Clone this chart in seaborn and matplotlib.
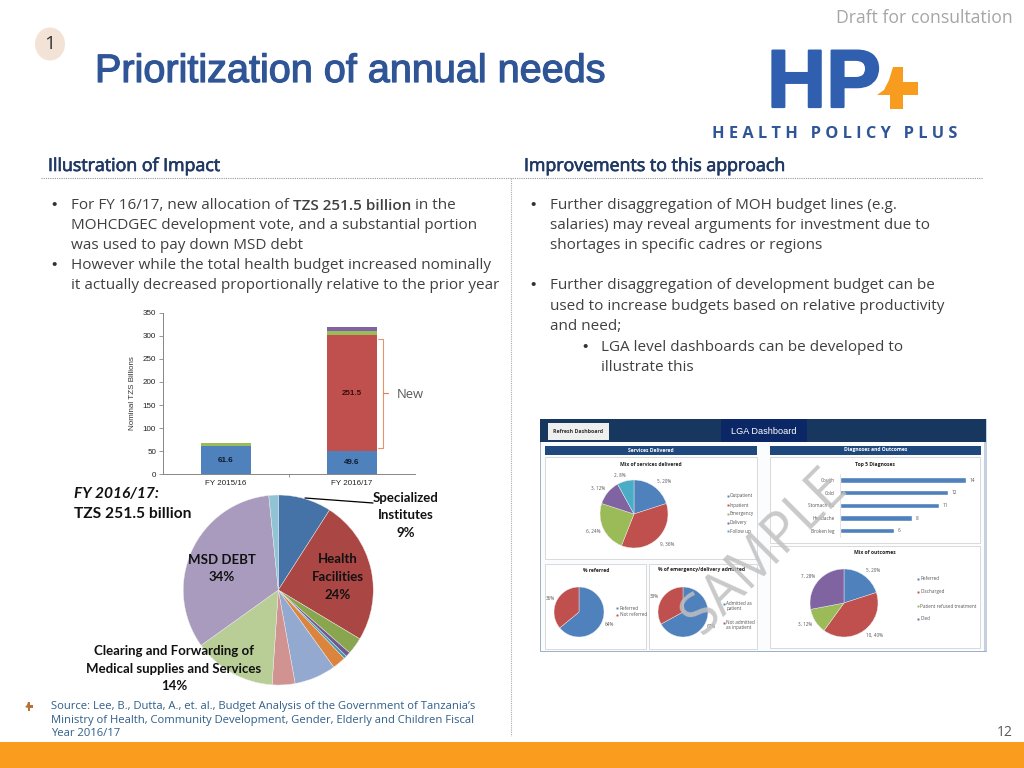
import pandas as pd
import matplotlib
matplotlib.use("Agg")
import matplotlib.pyplot as plt
import seaborn as sns
from matplotlib.patches import Rectangle, Ellipse, Polygon
import matplotlib.patheffects as pe

W, H = 1024, 768

# stacked bars
anos = ["FY 2015/16", "FY 2016/17"]
componentes = ["Base", "New", "Other", "Recurrent"]
base_vals = [61.6, 49.6]
new_vals = [0, 251.5]
other_vals = [6, 10]
recurrent_vals = [0, 8.5]
bar_cores = ["#4f81bd", "#c0504d", "#9bbb59", "#8064a2"]

# big pie, clockwise from the top
pie_vals = [9.1, 24.6, 2.9, 0.8, 0.5, 2.3, 7.1, 3.9, 14.1, 33.4, 1.6]
pie_cores = ["#4572a7", "#aa4643", "#89a54e", "#71588f", "#4198af", "#db843d",
             "#93a9cf", "#d19392", "#b9cd96", "#a99bbd", "#91c3d5"]

# dashboard data
mix_servicos = [5, 9, 6, 3, 2]
referidos = [64, 36]
admitidos = [67, 33]
mix_resultados = [5, 10, 3, 7]
dash_cores = ["#4f81bd", "#c0504d", "#9bbb59", "#8064a2", "#4bacc6"]
diagnosticos = ["Cough", "Cold", "Stomach flu", "Headache", "Broken leg"]
diag_vals = [14, 12, 11, 8, 6]

texto_esq = [
    "MOHCDGEC development vote, and a substantial portion",
    "was used to pay down MSD debt",
    "However while the total health budget increased nominally",
    "it actually decreased proportionally relative to the prior year",
]
texto_dir = [
    ("Further disaggregation of MOH budget lines (e.g.", 204, True),
    ("salaries) may reveal arguments for investment due to", 224, False),
    ("shortages in specific cadres or regions", 244, False),
    ("Further disaggregation of development budget can be", 284, True),
    ("used to increase budgets based on relative productivity", 305, False),
    ("and need;", 325, False),
]
fonte_linhas = [
    "Source: Lee, B., Dutta, A., et. al., Budget Analysis of the Government of Tanzania\u2019s",
    "Ministry of Health, Community Development, Gender, Elderly and Children Fiscal",
    "Year 2016/17",
]

sns.set_theme(style="white")
plt.rcParams["font.family"] = ["Open Sans", "DejaVu Sans"]

fig = plt.figure(figsize=(W / 100, H / 100), dpi=100, facecolor="white")


def eixo_px(x0, y0, x1, y1, z=2):
    ax = fig.add_axes([x0 / W, 1 - y1 / H, (x1 - x0) / W, (y1 - y0) / H], zorder=z)
    return ax


def pie_px(cx, cy, r, vals, cores):
    ax = eixo_px(cx - r, cy - r, cx + r, cy + r)
    ax.pie(vals, colors=cores, startangle=90, counterclock=False, radius=1,
           wedgeprops={"linewidth": 0.3, "edgecolor": "#eeeeee"})
    ax.set_xlim(-1, 1)
    ax.set_ylim(-1, 1)
    return ax


# background layer in pixel coordinates
bg = eixo_px(0, 0, W, H, z=0)
bg.set_xlim(0, W)
bg.set_ylim(H, 0)
bg.axis("off")

# top layer
top = eixo_px(0, 0, W, H, z=5)
top.set_xlim(0, W)
top.set_ylim(H, 0)
top.axis("off")
top.patch.set_alpha(0)


def txt(x, y, s, size, cor="#404040", ha="left", ax=top, **kw):
    return ax.text(x, y, s, fontsize=size, color=cor, ha=ha, va="center", **kw)


def bala(x, y):
    txt(x, y, "\u2022", 11, "#333333", family="Liberation Sans")


# header
txt(1013, 18, "Draft for consultation", 12.7, "#a6a6a6", ha="right")
bg.add_patch(Ellipse((50, 44), 30, 33, color="#f3e2d6", lw=0))
txt(50, 44, "1", 14, "#333333", ha="center")
txt(95, 71, "Prioritization of annual needs", 28.5, "#2f5597", family=["Liberation Sans Narrow", "Liberation Sans"],
    path_effects=[pe.withStroke(linewidth=0.9, foreground="#2f5597")])

# logo
txt(767, 86, "HP", 59, "#2f5fae", family="Liberation Sans", weight="bold",
    path_effects=[pe.withStroke(linewidth=1.6, foreground="#2f5fae")])
top.add_patch(Polygon([(877, 95), (884, 90), (889, 80), (893, 67), (903, 67), (903, 82), (918, 82),
                       (918, 95), (903, 95), (903, 109), (890, 109), (890, 95)], color="#f79c1f", lw=0))
txt(835, 133.5, "H E A L T H   P O L I C Y   P L U S", 11.8, "#2f5597", ha="center", weight="bold",
    family="Open Sans")

# section headings
txt(48, 166, "Illustration of Impact", 12.8, "#1f3864", family=["Open Sans"],
    path_effects=[pe.withStroke(linewidth=0.5, foreground="#1f3864")])
txt(524, 166, "Improvements to this approach", 12.8, "#1f3864", family=["Open Sans"],
    path_effects=[pe.withStroke(linewidth=0.5, foreground="#1f3864")])
bg.plot([41, 983], [177.5, 177.5], color="#999999", lw=0.8, ls=(0, (1, 1)))
bg.plot([511, 511], [178, 736], color="#aaaaaa", lw=0.8, ls=(0, (1, 1)))

# left bullets, first line has a bold run
CORPO = 11
DY = 1.5
bala(51, 204 + DY)
rend = fig.canvas.get_renderer()
x_run = 71
for parte, peso in [("For FY 16/17, new allocation of ", "normal"), ("TZS 251.5 billion", "semibold"), (" in the", "normal")]:
    t = txt(x_run, 204 + DY, parte.replace(" ", "\u00a0"), CORPO, weight=peso)
    bb = t.get_window_extent(rend)
    x_run = bb.x1
for s, y in zip(texto_esq, [224, 244, 264, 284]):
    txt(71, y + DY, s, CORPO)
bala(51, 264 + DY)

# right bullets
for s, y, marca in texto_dir:
    if marca:
        bala(530, y + DY)
    txt(550, y + DY, s, CORPO)
bala(582, 346 + DY)
txt(601, 346 + DY, "LGA level dashboards can be developed to", CORPO)
txt(601, 366 + DY, "illustrate this", CORPO)

# stacked bar chart
df = pd.DataFrame({
    "ano": anos * 4,
    "componente": [c for c in componentes for _ in anos],
    "valor": base_vals + new_vals + other_vals + recurrent_vals,
})
ax = eixo_px(163, 312.7, 415, 474.3)
sns.histplot(data=df, x="ano", hue="componente", weights="valor", multiple="stack", discrete=True,
             shrink=0.4, hue_order=componentes[::-1], palette=dict(zip(componentes, bar_cores)),
             linewidth=0, alpha=1, legend=False, ax=ax)
ax.set_xlim(-0.5, 1.5)
ax.set_ylim(0, 350)
ax.set_yticks(range(0, 351, 50))
ax.set_xlabel("")
ax.set_ylabel("Nominal TZS Billions", fontsize=5.8, color="#333333", family="Liberation Sans", labelpad=5)
ax.patch.set_alpha(0)
sns.despine(ax=ax)
for lado in ["left", "bottom"]:
    ax.spines[lado].set_color("#868686")
    ax.spines[lado].set_linewidth(0.7)
ax.tick_params(axis="y", length=3, width=0.6, color="#868686", labelsize=5.8, labelcolor="#222222", pad=2, left=True)
ax.tick_params(axis="x", length=0, labelsize=5.8, labelcolor="#222222", pad=4)
ax.set_xticks([0.5], minor=True)
ax.tick_params(axis="x", which="minor", length=2, width=0.6, color="#868686", bottom=True)
for l in ax.get_xticklabels() + ax.get_yticklabels():
    l.set_family("Liberation Sans")
for i, v, base in [(0, base_vals[0], 0), (1, base_vals[1], 0), (1, new_vals[1], base_vals[1])]:
    ax.text(i, base + v / 2, f"{v}", ha="center", va="center", fontsize=5.8, weight="bold",
            color="#0d1b2a" if base == 0 else "#3a0d0d", family="Liberation Sans")
top.plot([378, 383, 383, 378], [339, 339, 448, 448], color="#e8936b", lw=0.8)
top.plot([383, 388], [393, 393], color="#e07b4a", lw=0.8)
txt(397, 395, "New", 9.4, "#595959")

# big pie
pie_px(278.3, 590, 95, pie_vals, pie_cores)
CAL = "Lato"
txt(74, 494, "FY 2016/17:", 11.2, "#111111", family=CAL, weight="bold", style="italic")
txt(74, 514, "TZS 251.5 billion", 11.2, "#111111", family=CAL, weight="bold")
top.plot([305, 373], [498, 503], color="black", lw=0.9)
for s, y in zip(["Specialized", "Institutes", "9%"], [498, 515, 533]):
    txt(406, y, s, 9.5, "#111111", ha="center", family=CAL, weight="bold")
for s, y in zip(["MSD DEBT", "34%"], [560, 577]):
    txt(222, y, s, 9.5, "#111111", ha="center", family=CAL, weight="bold")
for s, y in zip(["Health", "Facilities", "24%"], [559, 577, 595]):
    txt(338, y, s, 9.5, "#111111", ha="center", family=CAL, weight="bold")
for s, y in zip(["Clearing and Forwarding of", "Medical supplies and Services", "14%"], [651, 669, 686]):
    txt(174, y, s, 9.5, "#111111", ha="center", family=CAL, weight="bold")

# dashboard picture
bg.add_patch(Rectangle((539.5, 419), 446.5, 232, facecolor="#fbfcfd", edgecolor="#8ea2c0", lw=0.6))
bg.add_patch(Rectangle((984, 419), 3, 232, facecolor="#c5cfe0", lw=0))
bg.add_patch(Rectangle((539.5, 419), 446.5, 23, facecolor="#17375e", lw=0))
bg.add_patch(Rectangle((721, 419), 86, 23, facecolor="#0b2766", lw=0))
bg.add_patch(Rectangle((548, 423), 61, 17, facecolor="#efefef", lw=0))
txt(578, 431.5, "Refresh Dashboard", 3.8, "#333333", ha="center", weight="bold")
txt(764, 432, "LGA Dashboard", 6.6, "white", ha="center", family="Liberation Sans")
for x0, x1 in [(545, 757), (770, 981)]:
    bg.add_patch(Rectangle((x0, 445.5), x1 - x0, 9.5, facecolor="#1f497d", lw=0))
for x0, y0, x1, y1 in [(545, 457, 757, 559), (545, 564, 646, 649), (649, 564, 757, 649),
                       (770, 457, 980, 543), (770, 546, 980, 648)]:
    bg.add_patch(Rectangle((x0, y0), x1 - x0, y1 - y0, facecolor="white", edgecolor="#d9d9d9", lw=0.7))
txt(651, 450, "Services Delivered", 3.6, "white", ha="center", weight="bold")
txt(876, 450, "Diagnoses and Outcomes", 3.6, "white", ha="center", weight="bold")
for s, x, y in [("Mix of services delivered", 651, 464.5), ("% referred", 596, 570),
                ("% of emergency/delivery admitted", 702, 570), ("Top 5 Diagnoses", 875, 464.5),
                ("Mix of outcomes", 875, 553)]:
    txt(x, y, s, 3.6, "#222222", ha="center", weight="bold")

pie_px(634, 514, 34, mix_servicos, dash_cores)
pie_px(579, 612, 25, referidos, dash_cores)
pie_px(683, 612, 25, admitidos, dash_cores)
pie_px(844, 603, 34, mix_resultados, dash_cores)

for s, x, y in [("5, 20%", 664, 481), ("9, 36%", 667, 544), ("6, 24%", 593.5, 531), ("3, 12%", 598, 488),
                ("2, 8%", 620, 475), ("36%", 550, 599), ("64%", 609, 624), ("33%", 654, 596), ("67%", 711, 627),
                ("5, 20%", 873, 570), ("10, 40%", 875, 635), ("3, 12%", 805, 624), ("7, 28%", 808, 576)]:
    txt(x, y, s, 3.3, "#555555", ha="center")

legendas = [
    (727.5, 496, "Outpatient", dash_cores[0]), (727.5, 505, "Inpatient", dash_cores[1]),
    (727.5, 513.5, "Emergency", dash_cores[2]), (727.5, 522.5, "Delivery", dash_cores[3]),
    (727.5, 531, "Follow up", dash_cores[4]), (617, 608, "Referred", dash_cores[0]),
    (617, 615, "Not referred", dash_cores[1]), (724, 604, "Admitted as\npatient", dash_cores[0]),
    (724, 623, "Not admitted\nas inpatient", dash_cores[1]), (918, 579, "Referred", dash_cores[0]),
    (918, 592, "Discharged", dash_cores[1]), (918, 606, "Patient refused treatment", dash_cores[2]),
    (918, 619, "Died", dash_cores[3]),
]
for x, y, s, c in legendas:
    top.plot([x], [y], "s", ms=1.4, color=c, mew=0)
    txt(x + 2.5, y + (2 if "\n" in s else 0), s, 3.3, "#555555")

ax_d = eixo_px(840, 473.7, 975, 537)
sns.barplot(x=diag_vals, y=diagnosticos, color=dash_cores[0], saturation=1, width=0.42, ax=ax_d)
ax_d.set_xlim(0, 15)
ax_d.patch.set_alpha(0)
ax_d.set_xticks([])
sns.despine(ax=ax_d, bottom=True)
ax_d.spines["left"].set_color("#d9d9d9")
ax_d.spines["left"].set_linewidth(0.5)
ax_d.tick_params(axis="y", length=0, labelsize=3.4, labelcolor="#555555", pad=4)
for i, v in enumerate(diag_vals):
    ax_d.text(v + 0.4, i, str(v), fontsize=3.4, color="#555555", va="center")

# watermark
txt(765, 553, "SAMPLE", 40, "#c0c0c0", ha="center", rotation=45, rotation_mode="anchor", alpha=0.85,
    family="Open Sans")

# footer
bg.add_patch(Rectangle((0, 742), W, 26, facecolor="#fa9c1e", lw=0))
top.add_patch(Polygon([(25, 707), (27, 705), (28, 702), (30, 702), (30, 705), (33, 705), (33, 708),
                       (30, 708), (30, 711), (28, 711), (28, 708)], color="#b87333", lw=0))
for s, y in zip(fonte_linhas, [706, 720, 733]):
    txt(51, y, s, 8.1, "#2f5f8a")
txt(1013, 733, "12", 10, "#595959", ha="right")

fig.savefig("out.png", dpi=100)
